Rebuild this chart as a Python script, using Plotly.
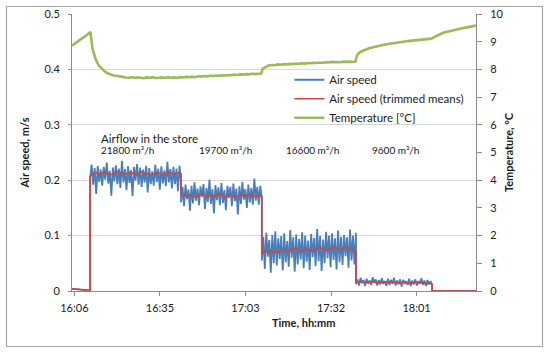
import numpy as np
import plotly.graph_objects as go

# ---------------- data (minutes after 16:06) ----------------
tick_minutes = [0, 28.8, 57.6, 86.4, 115.2]
tick_labels = ["16:06", "16:35", "17:03", "17:32", "18:01"]
x_range = [-0.8, 135.2]

# airflow steps: start/end times of each airflow level
seg_bounds = [5.3, 35.9, 63.1, 94.8, 120.4]
airflow_labels = ["21800 m³/h", "19700 m³/h", "16600 m³/h", "9600 m³/h"]
airflow_label_t = [8.3, 41.3, 70.6, 99.5]

speed_pre = [0.004, 0.0035, 0.003, 0.0025, 0.002, 0.0015, 0.001]

speed_seg1 = [0.205, 0.228, 0.192, 0.222, 0.175, 0.226, 0.197, 0.219, 0.190, 0.224,
              0.201, 0.232, 0.194, 0.217, 0.172, 0.223, 0.198, 0.227, 0.193, 0.221,
              0.186, 0.235, 0.196, 0.220, 0.182, 0.225, 0.195, 0.218, 0.171, 0.224,
              0.199, 0.229, 0.192, 0.223, 0.188, 0.219, 0.196, 0.226, 0.178, 0.222,
              0.193, 0.216, 0.190, 0.228, 0.197, 0.221, 0.183, 0.225, 0.194, 0.218,
              0.189, 0.233, 0.196, 0.220, 0.185, 0.224, 0.193, 0.221, 0.180, 0.226, 0.198]
trimmed_seg1 = [0.207, 0.212, 0.214, 0.211, 0.213, 0.215, 0.212, 0.210, 0.213, 0.216,
                0.214, 0.211, 0.212, 0.214, 0.213, 0.210, 0.212, 0.215, 0.213, 0.211,
                0.209, 0.212, 0.214, 0.212, 0.210, 0.213, 0.215, 0.212, 0.211, 0.213, 0.212]

speed_seg2 = [0.160, 0.188, 0.153, 0.192, 0.166, 0.183, 0.145, 0.190, 0.158, 0.196,
              0.163, 0.185, 0.155, 0.189, 0.170, 0.193, 0.148, 0.186, 0.161, 0.201,
              0.157, 0.184, 0.140, 0.191, 0.164, 0.187, 0.155, 0.195, 0.159, 0.182,
              0.146, 0.190, 0.168, 0.188, 0.153, 0.194, 0.162, 0.185, 0.138, 0.189,
              0.157, 0.197, 0.165, 0.184, 0.150, 0.192, 0.160, 0.186, 0.156, 0.203,
              0.163, 0.188, 0.156, 0.190, 0.167]
trimmed_seg2 = [0.176, 0.173, 0.171, 0.174, 0.172, 0.169, 0.173, 0.175, 0.172, 0.170,
                0.173, 0.171, 0.174, 0.176, 0.172, 0.170, 0.173, 0.172, 0.169, 0.172,
                0.174, 0.171, 0.173, 0.175, 0.172, 0.170, 0.172, 0.171]

speed_seg3 = [0.055, 0.098, 0.040, 0.105, 0.062, 0.092, 0.033, 0.101, 0.050, 0.108,
              0.046, 0.095, 0.058, 0.099, 0.037, 0.104, 0.052, 0.090, 0.044, 0.110,
              0.060, 0.097, 0.035, 0.102, 0.048, 0.094, 0.057, 0.106, 0.041, 0.100,
              0.053, 0.091, 0.038, 0.103, 0.061, 0.096, 0.045, 0.112, 0.054, 0.099,
              0.036, 0.093, 0.050, 0.107, 0.059, 0.100, 0.043, 0.104, 0.056, 0.095,
              0.039, 0.109, 0.052, 0.098, 0.047, 0.101, 0.063, 0.097, 0.042, 0.111,
              0.055, 0.100, 0.048, 0.105]
trimmed_seg3 = [0.068, 0.072, 0.070, 0.074, 0.071, 0.069, 0.073, 0.076, 0.072, 0.070,
                0.074, 0.078, 0.075, 0.071, 0.073, 0.076, 0.074, 0.071, 0.075, 0.079,
                0.076, 0.073, 0.075, 0.078, 0.080, 0.076, 0.074, 0.077, 0.079, 0.076,
                0.074, 0.072]

speed_seg4 = [0.012, 0.021, 0.010, 0.024, 0.014, 0.020, 0.009, 0.022, 0.013, 0.019,
              0.011, 0.025, 0.015, 0.021, 0.010, 0.020, 0.012, 0.023, 0.014, 0.018,
              0.009, 0.022, 0.011, 0.020, 0.013, 0.024, 0.010, 0.019, 0.012, 0.021,
              0.008, 0.020, 0.013, 0.018, 0.011, 0.022, 0.009, 0.019, 0.012, 0.021,
              0.010, 0.018, 0.013, 0.023, 0.011, 0.019, 0.009, 0.020, 0.012, 0.018, 0.010]
trimmed_seg4 = [0.017, 0.016, 0.017, 0.015, 0.016, 0.017, 0.016, 0.015, 0.016, 0.014,
                0.016, 0.017, 0.015, 0.016, 0.014, 0.015, 0.016, 0.015, 0.013, 0.015,
                0.016, 0.014, 0.015, 0.013, 0.014, 0.013]

speed_post = [0.0, 0.0]

# temperature [°C], four stretches
temp_bounds = [(-0.8, 5.4), (6.1, 62.9), (63.4, 94.6), (95.2, 135.2)]
temp_pre = [8.86, 8.95, 9.03, 9.10, 9.17, 9.25, 9.35]
temp_cool = [8.75, 8.38, 8.15, 8.02, 7.93, 7.86, 7.82, 7.78, 7.77, 7.74, 7.73, 7.71,
             7.70, 7.72, 7.69, 7.71, 7.70, 7.68, 7.71, 7.70, 7.72, 7.69, 7.70, 7.71,
             7.69, 7.72, 7.70, 7.71, 7.69, 7.72,
             7.71, 7.73, 7.72, 7.74, 7.72, 7.75, 7.74, 7.76, 7.75, 7.77, 7.76, 7.78,
             7.77, 7.79, 7.78, 7.80, 7.79, 7.81, 7.80, 7.82, 7.81, 7.83, 7.82, 7.84,
             7.83, 7.85, 7.85]
temp_mid = [8.03, 8.10, 8.14, 8.16, 8.15, 8.18, 8.17, 8.19, 8.18, 8.20, 8.19, 8.21,
            8.20, 8.22, 8.21, 8.23, 8.22, 8.24, 8.23, 8.25, 8.24, 8.26, 8.25, 8.27,
            8.26, 8.27, 8.26, 8.28, 8.27, 8.28, 8.27, 8.28]
temp_late = [8.52, 8.63, 8.68, 8.72, 8.76, 8.79, 8.82, 8.84, 8.87, 8.89, 8.91, 8.93,
             8.95, 8.96, 8.98, 8.99, 9.01, 9.02, 9.03, 9.04, 9.05, 9.06, 9.06, 9.07,
             9.08, 9.11, 9.17, 9.23, 9.28, 9.32, 9.35, 9.38, 9.41, 9.44, 9.46, 9.48,
             9.50, 9.52, 9.54, 9.56, 9.58]

# ---------------- assemble series ----------------
speed_segs = [speed_seg1, speed_seg2, speed_seg3, speed_seg4]
trimmed_segs = [trimmed_seg1, trimmed_seg2, trimmed_seg3, trimmed_seg4]


def build(pre, segs, post):
    xs = [np.linspace(x_range[0], seg_bounds[0], len(pre))]
    ys = [np.array(pre)]
    for i, s in enumerate(segs):
        xs.append(np.linspace(seg_bounds[i], seg_bounds[i + 1], len(s)))
        ys.append(np.array(s))
    xs.append(np.linspace(seg_bounds[-1], x_range[1], len(post)))
    ys.append(np.array(post))
    return np.concatenate(xs), np.concatenate(ys)


bx, by = build(speed_pre, speed_segs, speed_post)
rx, ry = build(speed_pre, trimmed_segs, speed_post)

temp_parts = [temp_pre, temp_cool, temp_mid, temp_late]
tx = np.concatenate([np.linspace(a, b, len(v)) for (a, b), v in zip(temp_bounds, temp_parts)])
ty = np.concatenate([np.array(v) for v in temp_parts])

# ---------------- figure ----------------
FONT = "Lato, 'Open Sans', sans-serif"
BLUE, RED, GREEN = "#4A7EBB", "#D0453C", "#9BBB59"
AXC = "#8C8C8C"

fig = go.Figure()
fig.add_trace(go.Scatter(x=bx, y=by, mode="lines", name="Air speed",
                         line=dict(color=BLUE, width=1.8)))
fig.add_trace(go.Scatter(x=rx, y=ry, mode="lines", name="Air speed (trimmed means)",
                         line=dict(color=RED, width=1.6)))
fig.add_trace(go.Scatter(x=tx, y=ty, mode="lines", name="Temperature [°C]",
                         line=dict(color=GREEN, width=2.6), yaxis="y2"))

W, H = 550, 353
ML, MR, MT, MB = 72, 74, 14, 62
pw, ph = W - ML - MR, H - MT - MB


def px_x(p):
    return (p - ML) / pw


def px_y(p):
    return (H - MB - p) / ph


fig.update_layout(
    template="none",
    width=W, height=H, autosize=False,
    margin=dict(l=ML, r=MR, t=MT, b=MB, pad=0),
    paper_bgcolor="white", plot_bgcolor="white",
    font=dict(family=FONT, size=11, color="#1a1a1a"),
    showlegend=True,
    legend=dict(x=0.538, y=0.815, xanchor="left", yanchor="top",
                bgcolor="rgba(0,0,0,0)", font=dict(size=11.5),
                tracegroupgap=0, itemwidth=30),
    xaxis=dict(range=x_range, tickvals=tick_minutes, ticktext=tick_labels,
               automargin=False,
               showgrid=False, zeroline=False, showline=True, linecolor=AXC,
               ticks="outside", ticklen=4, tickcolor=AXC, ticklabelstandoff=3,
               tickfont=dict(size=11)),
    yaxis=dict(range=[0, 0.5], dtick=0.1, tick0=0, showgrid=True, gridcolor="#D9D9D9",
               automargin=False,
               zeroline=False, showline=True, linecolor=AXC, ticks="outside",
               ticklen=3, tickcolor=AXC, ticklabelstandoff=6, tickfont=dict(size=11),
               title=dict(text="Air speed, m/s", font=dict(size=11, weight="bold"),
                          standoff=12)),
    yaxis2=dict(range=[0, 10], dtick=1, tick0=0, overlaying="y", side="right",
                automargin=False,
                showgrid=False, zeroline=False, showline=True, linecolor=AXC,
                ticks="outside", ticklen=5, tickcolor=AXC, ticklabelstandoff=6,
                tickfont=dict(size=11),
                title=dict(text="Temperature, °C", font=dict(size=11, weight="bold"),
                           standoff=2)),
)

annotations = [
    dict(x=airflow_label_t[0], y=0.276, xref="x", yref="y", text="Airflow in the store",
         showarrow=False, xanchor="left", yanchor="middle", font=dict(size=11.5)),
    dict(x=0.5 * (px_x(272) + px_x(334)), y=px_y(322), xref="paper", yref="paper",
         text="Time, hh:mm", showarrow=False, xanchor="center", yanchor="middle",
         font=dict(size=11, weight="bold")),
]
for t, lab in zip(airflow_label_t, airflow_labels):
    annotations.append(dict(x=t, y=0.2545, xref="x", yref="y", text=lab, showarrow=False,
                            xanchor="left", yanchor="middle", font=dict(size=10)))
fig.update_layout(annotations=annotations)

fig.add_shape(type="rect", xref="paper", yref="paper",
              x0=px_x(6.5), x1=px_x(542.5), y0=px_y(346.5), y1=px_y(6.5),
              line=dict(color="#A6A6A6", width=1.2), fillcolor="rgba(0,0,0,0)", layer="above")

fig.write_html("out.html",
               config={"displayModeBar": False},
               post_script="document.body.style.margin='0';"
                           "document.body.style.padding='0';"
                           "document.body.style.overflow='hidden';")
